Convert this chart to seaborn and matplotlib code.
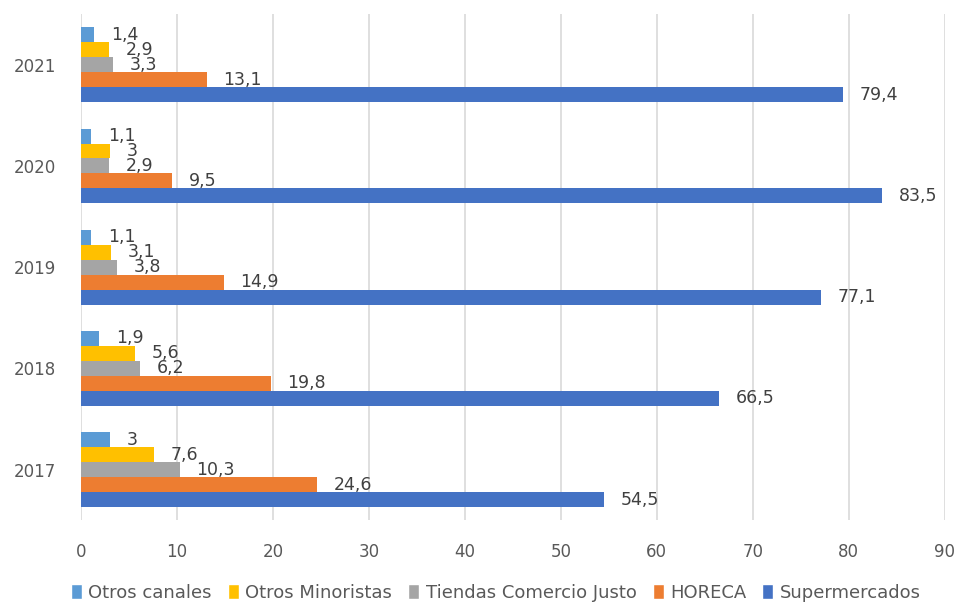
import matplotlib
matplotlib.use("Agg")
import matplotlib.pyplot as plt
import pandas as pd
import seaborn as sns
from matplotlib.patches import Patch

# Data
years = ["2021", "2020", "2019", "2018", "2017"]
channels = ["Otros canales", "Otros Minoristas", "Tiendas Comercio Justo", "HORECA", "Supermercados"]
otros_canales = [1.4, 1.1, 1.1, 1.9, 3]
otros_minoristas = [2.9, 3, 3.1, 5.6, 7.6]
tiendas_cj = [3.3, 2.9, 3.8, 6.2, 10.3]
horeca = [13.1, 9.5, 14.9, 19.8, 24.6]
supermercados = [79.4, 83.5, 77.1, 66.5, 54.5]
colors = ["#5B9BD5", "#FFC000", "#A5A5A5", "#ED7D31", "#4472C4"]

series = [otros_canales, otros_minoristas, tiendas_cj, horeca, supermercados]
rows = []
for ch, vals in zip(channels, series):
    for y, v in zip(years, vals):
        rows.append({"year": y, "canal": ch, "value": v})
df = pd.DataFrame(rows)

sns.set_style("white")
plt.rcParams["font.family"] = ["DejaVu Sans"]
text_color = "#595959"

fig = plt.figure(figsize=(9.63, 6.15), dpi=100)
ax = fig.add_axes([0.084, 0.154, 0.897, 0.823])

sns.barplot(data=df, x="value", y="year", hue="canal", order=years,
            hue_order=channels, palette=colors, orient="h", width=0.74,
            saturation=1, linewidth=0, errorbar=None, ax=ax, legend=False,
            zorder=3)

# Data labels
for container in ax.containers:
    labels = [f"{v:g}".replace(".", ",") for v in container.datavalues]
    ax.bar_label(container, labels=labels, padding=12, fontsize=12.5,
                 color="#404040")

ax.set_xlim(0, 90)
ax.set_xticks(range(0, 91, 10))
ax.grid(axis="x", color="#D9D9D9", linewidth=1.2, zorder=0)
ax.set_axisbelow(True)
for s in ax.spines.values():
    s.set_visible(False)
ax.set_xlabel("")
ax.set_ylabel("")
ax.tick_params(axis="x", length=0, pad=16, labelsize=12, labelcolor=text_color)
ax.tick_params(axis="y", length=0, pad=18, labelsize=12, labelcolor=text_color)

handles = [Patch(facecolor=c, label=ch) for c, ch in zip(colors, channels)]
leg = fig.legend(handles=handles, loc="lower center", bbox_to_anchor=(0.515, -0.005),
                 ncol=5, frameon=False, fontsize=13, handlelength=0.6,
                 handleheight=0.9, handletextpad=0.35, columnspacing=0.9)
for t in leg.get_texts():
    t.set_color(text_color)

fig.savefig("out.png", dpi=100)
